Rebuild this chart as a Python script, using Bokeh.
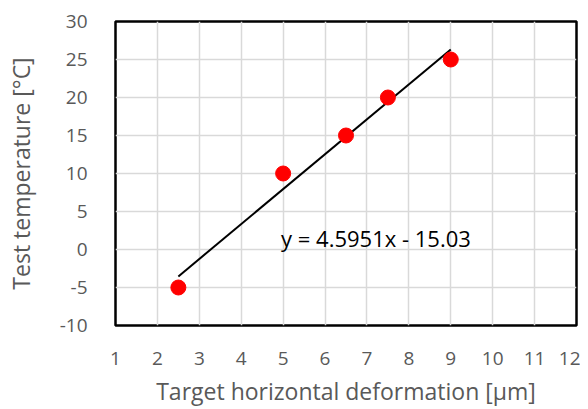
from bokeh.plotting import figure
from bokeh.models import FixedTicker, Label, ColumnDataSource, PrintfTickFormatter
from bokeh.embed import file_html
from bokeh.resources import INLINE

# data
deformation = [2.5, 5.0, 6.5, 7.5, 9.0]
temperature = [-5, 10, 15, 20, 25]
slope = 4.5951
intercept = -15.03
x_ticks = list(range(1, 13))
y_ticks = list(range(-10, 31, 5))

FONT = "Open Sans"
GRAY = "#595959"

p = figure(width=580, height=409, x_range=(1, 12), y_range=(-10, 30),
           output_backend="svg", toolbar_location=None,
           min_border_left=115, min_border_top=21, min_border_right=4, min_border_bottom=84)

p.outline_line_color = "black"
p.outline_line_width = 2.5
p.background_fill_color = "white"
p.border_fill_color = "white"

p.xgrid.grid_line_color = "#d9d9d9"
p.ygrid.grid_line_color = "#d9d9d9"
p.xgrid.grid_line_width = 1.5
p.ygrid.grid_line_width = 1.5

p.xaxis.ticker = FixedTicker(ticks=x_ticks)
p.yaxis.ticker = FixedTicker(ticks=y_ticks)
p.xaxis.formatter = PrintfTickFormatter(format="%d")
p.yaxis.formatter = PrintfTickFormatter(format="%d")

for ax in (p.xaxis[0], p.yaxis[0]):
    ax.axis_line_color = None
    ax.major_tick_line_color = None
    ax.minor_tick_line_color = None
    ax.major_label_text_font = FONT
    ax.major_label_text_font_size = "19px"
    ax.major_label_text_color = GRAY
    ax.axis_label_text_font = FONT
    ax.axis_label_text_font_size = "23px"
    ax.axis_label_text_font_style = "normal"
    ax.axis_label_text_color = GRAY

p.xaxis.axis_label = "Target horizontal deformation [µm]"
p.yaxis.axis_label = "Test temperature [°C]"
p.xaxis.major_label_standoff = 20
p.yaxis.major_label_standoff = 22
p.xaxis.axis_label_standoff = 7
p.yaxis.axis_label_standoff = 20

# trendline
x0, x1 = min(deformation), max(deformation)
src = ColumnDataSource(data=dict(x=[x0, x1], y=[slope * x0 + intercept, slope * x1 + intercept]))
p.line("x", "y", source=src, line_color="black", line_width=2)

p.scatter(deformation, temperature, size=15, fill_color="#ff0000", line_color="#ff0000")

p.add_layout(Label(x=4.95, y=1.5, text="y = 4.5951x - 15.03", text_font=FONT,
                   text_font_size="22px", text_color="black", text_baseline="alphabetic"))

open("out.html", "w").write(file_html(p, INLINE))
